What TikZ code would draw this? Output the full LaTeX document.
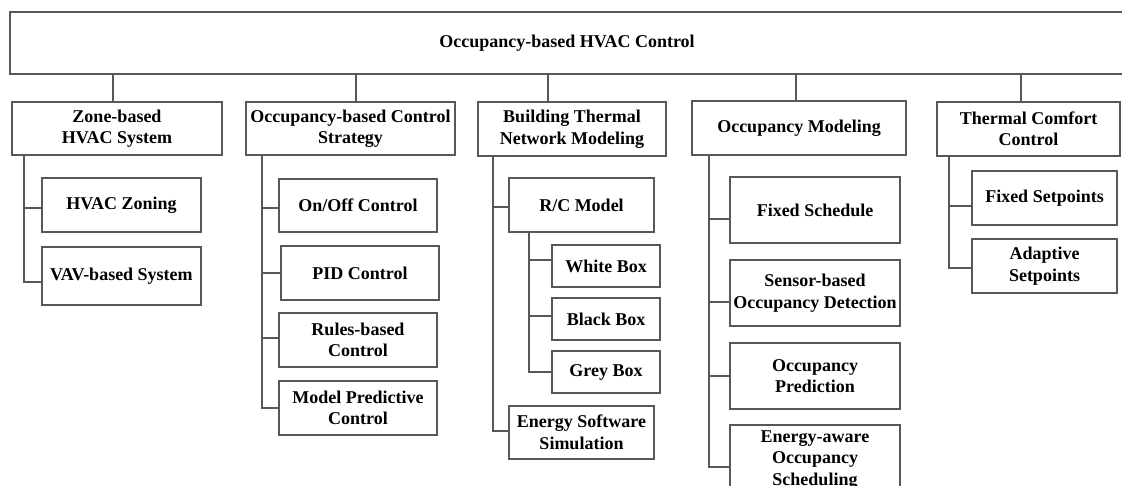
\documentclass[tikz,border=0pt]{standalone}
\usepackage{fontspec}
\setmainfont{Liberation Serif}
\definecolor{linegray}{RGB}{88,88,88}
\begin{document}
\begin{tikzpicture}[x=1pt,y=-1pt,
  box/.style={draw=linegray,line width=1.3pt,inner sep=0pt,align=center,
    font=\fontsize{18}{21.5}\selectfont\bfseries},
  conn/.style={draw=linegray,line width=1.3pt}]
\useasboundingbox (0,0) rectangle (1122,486);
\clip (0,0) rectangle (1122,486);
% top
\node[box,minimum width=1114pt,minimum height=62pt] (top) at (567,43) {Occupancy-based HVAC Control};
% level 1
\node[box,minimum width=210pt,minimum height=53pt] (A) at (117,128.5) {Zone-based\\HVAC System};
\node[box,minimum width=209pt,minimum height=53pt] (B) at (350.5,128.5) {Occupancy-based Control\\Strategy};
\node[box,minimum width=188pt,minimum height=54pt] (C) at (572,129) {Building Thermal\\Network Modeling};
\node[box,minimum width=214pt,minimum height=54pt] (D) at (799,128) {Occupancy Modeling};
\node[box,minimum width=183pt,minimum height=54pt] (E) at (1028.5,129) {Thermal Comfort\\Control};
% top connectors
\coordinate (kA) at (113,0);
\coordinate (kB) at (356,0);
\coordinate (kC) at (548,0);
\coordinate (kD) at (796,0);
\coordinate (kE) at (1021,0);
\foreach \k/\n in {kA/A,kB/B,kC/C,kD/D,kE/E}
  \draw[conn] (\k |- top.south) -- (\k |- \n.north);
% Zone-based children
\node[box,minimum width=159pt,minimum height=54pt] (A1) at (121.5,205) {HVAC Zoning};
\node[box,minimum width=159pt,minimum height=58pt] (A2) at (121.5,276) {VAV-based System};
\coordinate (bA1) at (24,208);
\coordinate (bA2) at (24,282);
\draw[conn] (bA2 |- A.south) -- (bA2) -- (bA2 -| A2.west);
\draw[conn] (bA1) -- (bA1 -| A1.west);
% Control strategy children
\node[box,minimum width=158pt,minimum height=53pt] (B1) at (358,205.5) {On/Off Control};
\node[box,minimum width=158pt,minimum height=54pt] (B2) at (360,273) {PID Control};
\node[box,minimum width=158pt,minimum height=54pt] (B3) at (358,340) {Rules-based\\Control};
\node[box,minimum width=158pt,minimum height=54pt] (B4) at (358,408) {Model Predictive\\Control};
\coordinate (bB1) at (262,208);
\coordinate (bB2) at (262,273);
\coordinate (bB3) at (262,338);
\coordinate (bB4) at (262,408);
\draw[conn] (bB4 |- B.south) -- (bB4) -- (bB4 -| B4.west);
\foreach \b/\n in {bB1/B1,bB2/B2,bB3/B3}
  \draw[conn] (\b) -- (\b -| \n.west);
% Thermal network children
\node[box,minimum width=145pt,minimum height=54pt] (C1) at (581.5,205) {R/C Model};
\node[box,minimum width=108pt,minimum height=42pt] (C11) at (606,266) {White Box};
\node[box,minimum width=108pt,minimum height=42pt] (C12) at (606,319) {Black Box};
\node[box,minimum width=108pt,minimum height=42pt] (C13) at (606,372) {Grey Box};
\node[box,minimum width=145pt,minimum height=53pt] (C2) at (581.5,432.5) {Energy Software\\Simulation};
\coordinate (bC1) at (493,207);
\coordinate (bC2) at (493,431);
\draw[conn] (bC2 |- C.south) -- (bC2) -- (bC2 -| C2.west);
\draw[conn] (bC1) -- (bC1 -| C1.west);
\coordinate (bC11) at (529,260);
\coordinate (bC12) at (529,316);
\coordinate (bC13) at (529,372);
\draw[conn] (bC13 |- C1.south) -- (bC13) -- (bC13 -| C13.west);
\draw[conn] (bC11) -- (bC11 -| C11.west);
\draw[conn] (bC12) -- (bC12 -| C12.west);
% Occupancy modeling children
\node[box,minimum width=170pt,minimum height=66pt] (D1) at (815,210) {Fixed Schedule};
\node[box,minimum width=170pt,minimum height=66pt] (D2) at (815,293) {Sensor-based\\Occupancy Detection};
\node[box,minimum width=170pt,minimum height=66pt] (D3) at (815,376) {Occupancy\\Prediction};
\node[box,minimum width=170pt,minimum height=70pt] (D4) at (815,460) {Energy-aware\\Occupancy\\Scheduling};
\coordinate (bD1) at (709,219);
\coordinate (bD2) at (709,302);
\coordinate (bD3) at (709,376);
\coordinate (bD4) at (709,467);
\draw[conn] (bD4 |- D.south) -- (bD4) -- (bD4 -| D4.west);
\foreach \b/\n in {bD1/D1,bD2/D2,bD3/D3}
  \draw[conn] (\b) -- (\b -| \n.west);
% Thermal comfort children
\node[box,minimum width=145pt,minimum height=54pt] (E1) at (1044.5,198) {Fixed Setpoints};
\node[box,minimum width=145pt,minimum height=54pt] (E2) at (1044.5,266) {Adaptive\\Setpoints};
\coordinate (bE1) at (949,206);
\coordinate (bE2) at (949,268);
\draw[conn] (bE2 |- E.south) -- (bE2) -- (bE2 -| E2.west);
\draw[conn] (bE1) -- (bE1 -| E1.west);
\end{tikzpicture}
\end{document}
